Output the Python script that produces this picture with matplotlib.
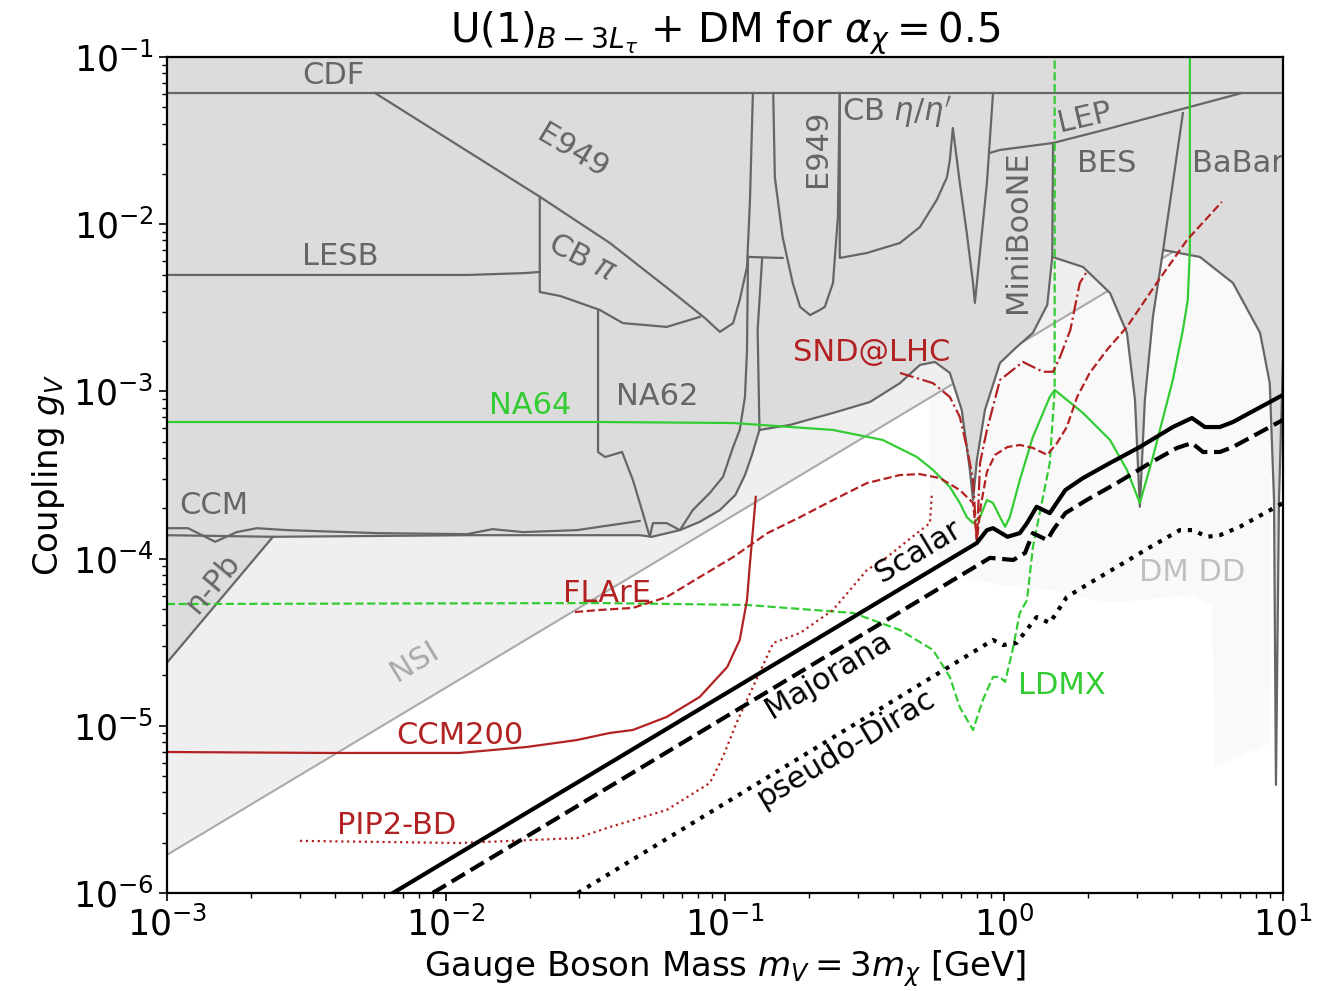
import matplotlib.pyplot as plt

GRAY = '#dcdcdc'
EDGE = '#666666'
GREEN = '#33cc33'
RED = '#b22222'

# lower envelope of the combined excluded region (mass GeV, coupling)
env_m = [1e-3, 2.40e-3, 1.22e-2, 4.95e-2, 5.47e-2, 6.90e-2, 8.13e-2, 9.59e-2, 0.109, 0.118,
         0.125, 0.133, 0.171, 0.244, 0.331, 0.424, 0.500, 0.566, 0.640, 0.706,
         0.755, 0.775, 0.800, 0.855, 0.968, 1.11, 1.27, 1.43, 1.49, 1.92,
         2.40, 2.76, 2.95, 3.07, 3.20, 3.42, 3.72, 5.04, 6.62, 8.28,
         8.97, 9.29, 9.44, 9.68, 10.0]
env_g = [2.38e-5, 1.35e-4, 1.38e-4, 1.38e-4, 1.35e-4, 1.48e-4, 1.66e-4, 1.95e-4, 2.40e-4, 3.16e-4,
         4.17e-4, 5.88e-4, 6.30e-4, 7.43e-4, 8.64e-4, 1.12e-3, 1.44e-3, 1.50e-3, 1.29e-3, 7.74e-4,
         3.39e-4, 2.24e-4, 3.89e-4, 7.74e-4, 1.48e-3, 1.84e-3, 2.24e-3, 3.29e-3, 6.37e-3, 5.55e-3,
         3.88e-3, 2.24e-3, 8.89e-4, 2.04e-4, 8.89e-4, 2.79e-3, 7.01e-3, 6.37e-3, 4.45e-3, 2.24e-3,
         1.12e-3, 2.24e-4, 4.43e-6, 2.24e-4, 1.54e-3]

# boundaries of the individual constraints
cdf_m = [1e-3, 10.0]
cdf_g = [6.09e-2, 6.09e-2]
e949_m = [5.57e-3, 2.17e-2, 3.87e-2, 6.35e-2, 8.47e-2, 9.59e-2, 0.107, 0.113, 0.120, 0.123, 0.126]
e949_g = [6.09e-2, 1.46e-2, 7.72e-3, 4.04e-3, 2.75e-3, 2.27e-3, 2.56e-3, 3.52e-3, 5.55e-3, 1.40e-2, 6.09e-2]
lesb_m = [1e-3, 1.2e-2, 1.92e-2, 2.17e-2]
lesb_g = [4.97e-3, 4.97e-3, 5.10e-3, 5.18e-3]
cbpi_m = [2.17e-2, 2.17e-2, 2.57e-2, 3.56e-2, 4.31e-2, 6.19e-2, 8.13e-2]
cbpi_g = [1.46e-2, 3.93e-3, 3.72e-3, 3.07e-3, 2.56e-3, 2.43e-3, 2.79e-3]
na62_m = [3.51e-2, 3.51e-2, 3.72e-2, 4.28e-2, 4.68e-2, 5.08e-2, 5.38e-2, 5.52e-2, 6.19e-2, 6.90e-2,
          7.67e-2, 8.83e-2, 9.84e-2, 0.107, 0.113, 0.118, 0.120, 0.121]
na62_g = [3.07e-3, 4.34e-4, 4.05e-4, 4.34e-4, 2.95e-4, 1.87e-4, 1.35e-4, 1.63e-4, 1.63e-4, 1.48e-4,
          1.95e-4, 2.47e-4, 3.08e-4, 4.65e-4, 5.88e-4, 9.26e-4, 1.77e-3, 6.37e-3]
strand_m = [0.133, 0.131, 0.136]
strand_g = [5.88e-4, 2.33e-3, 6.28e-3]
e949low_m = [0.121, 0.161]
e949low_g = [6.37e-3, 6.28e-3]
e949u_m = [0.149, 0.151, 0.161, 0.175, 0.186, 0.202, 0.219, 0.228, 0.244, 0.254, 0.258]
e949u_g = [6.09e-2, 1.91e-2, 8.38e-3, 4.45e-3, 3.20e-3, 2.86e-3, 3.07e-3, 3.20e-3, 4.45e-3, 1.10e-2, 6.09e-2]
cbeta_m = [0.258, 0.258, 0.323, 0.424, 0.500, 0.575, 0.625, 0.640, 0.656, 0.695,
           0.736, 0.775, 0.787, 0.800, 0.869, 0.914]
cbeta_g = [6.09e-2, 6.28e-3, 6.73e-3, 7.72e-3, 9.62e-3, 1.40e-2, 1.91e-2, 2.42e-2, 3.76e-2, 1.76e-2,
           8.86e-3, 4.45e-3, 3.38e-3, 4.45e-3, 1.76e-2, 6.09e-2]
lep_m = [0.891, 0.968, 1.50, 2.21, 3.84, 7.13]
lep_g = [2.67e-2, 2.78e-2, 3.06e-2, 3.61e-2, 4.62e-2, 6.09e-2]
mini_m = [1.50, 1.49]
mini_g = [3.06e-2, 6.37e-3]
bes_m = [3.72, 4.03, 4.38]
bes_g = [7.01e-3, 1.76e-2, 4.62e-2]
ccm_m = [1e-3, 1.19e-3, 1.49e-3, 1.78e-3, 2.10e-3, 2.69e-3, 5.66e-3, 1.19e-2, 1.47e-2, 1.89e-2, 2.95e-2, 4.95e-2]
ccm_g = [1.52e-4, 1.52e-4, 1.26e-4, 1.44e-4, 1.52e-4, 1.48e-4, 1.42e-4, 1.40e-4, 1.50e-4, 1.44e-4, 1.48e-4, 1.68e-4]
ccmflat_m = [1e-3, 2.40e-3]
ccmflat_g = [1.38e-4, 1.35e-4]

nsi_m = [1e-3, 10.0]
nsi_g = [1.69e-6, 1.69e-2]

dmdd_m = [0.543, 0.543, 0.560, 0.590, 0.724, 0.968, 1.46, 2.40, 4.64, 5.57, 5.70, 8.97, 9.2]
dmdd_g = [0.1, 1.48e-4, 1.15e-4, 9.81e-5, 7.66e-5, 6.95e-5, 6.49e-5, 5.42e-5, 6.06e-5, 5.28e-5,
          5.67e-6, 7.89e-6, 0.1]

# current / future sensitivities
na64_m = [1e-3, 3.56e-2, 0.107, 0.244, 0.368, 0.488, 0.557, 0.640, 0.695, 0.736,
          0.775, 0.821, 0.869, 0.914, 0.968, 1.01, 1.05, 1.14, 1.27, 1.46,
          1.52, 1.92, 2.40, 2.76, 3.07, 3.42, 4.03, 4.38, 4.56, 4.64, 4.64]
na64_g = [6.56e-4, 6.56e-4, 6.47e-4, 5.88e-4, 5.12e-4, 4.05e-4, 3.39e-4, 2.68e-4, 2.15e-4, 1.77e-4,
          1.63e-4, 1.77e-4, 2.24e-4, 2.15e-4, 1.77e-4, 1.55e-4, 1.77e-4, 2.95e-4, 5.34e-4, 9.26e-4,
          1.02e-3, 7.43e-4, 5.12e-4, 3.39e-4, 2.15e-4, 4.05e-4, 1.17e-3, 2.33e-3, 3.52e-3, 7.01e-3, 0.1]
ldmx_m = [1e-3, 3.56e-2, 0.120, 0.288, 0.424, 0.557, 0.640, 0.695, 0.775, 0.841,
          0.914, 0.968, 1.01, 1.08, 1.14, 1.21, 1.27, 1.46, 1.52, 1.52]
ldmx_g = [5.35e-5, 5.42e-5, 5.28e-5, 4.73e-5, 3.74e-5, 2.84e-5, 1.96e-5, 1.29e-5, 9.44e-6, 1.43e-5,
          1.96e-5, 1.96e-5, 1.83e-5, 2.96e-5, 4.73e-5, 5.65e-5, 1.17e-4, 3.73e-4, 1.02e-3, 0.1]
snd_m = [0.424, 0.557, 0.640, 0.695, 0.736, 0.775, 0.800, 0.821, 0.869, 0.968,
         1.17, 1.38, 1.50, 1.59, 1.73, 1.87, 2.00]
snd_g = [1.29e-3, 1.12e-3, 9.26e-4, 7.03e-4, 4.65e-4, 2.95e-4, 1.24e-4, 3.73e-4, 5.88e-4, 1.17e-3,
         1.50e-3, 1.31e-3, 1.31e-3, 1.61e-3, 2.33e-3, 4.45e-3, 5.32e-3]
flare_m = [2.90e-2, 3.56e-2, 4.68e-2, 6.19e-2, 8.13e-2, 0.107, 0.142, 0.186, 0.244, 0.323,
           0.424, 0.500, 0.590, 0.695, 0.775, 0.794, 0.800, 0.827, 0.869, 0.929,
           1.03, 1.14, 1.27, 1.43, 1.55, 1.68, 1.83, 2.03, 2.34, 2.76,
           3.53, 4.53, 6.04]
flare_g = [4.79e-5, 4.93e-5, 5.07e-5, 5.89e-5, 7.76e-5, 1.02e-4, 1.42e-4, 1.77e-4, 2.24e-4, 2.83e-4,
           3.16e-4, 3.20e-4, 3.03e-4, 2.57e-4, 2.15e-4, 1.48e-4, 1.29e-4, 2.09e-4, 3.30e-4, 4.17e-4,
           4.65e-4, 4.78e-4, 4.59e-4, 4.17e-4, 4.91e-4, 6.12e-4, 9.26e-4, 1.29e-3, 1.77e-3, 2.43e-3,
           4.45e-3, 8.04e-3, 1.36e-2]
ccm200_m = [1e-3, 3.75e-3, 1.12e-2, 1.95e-2, 2.95e-2, 3.87e-2, 4.68e-2, 6.19e-2, 8.13e-2, 0.102,
            0.113, 0.120, 0.123, 0.126, 0.129]
ccm200_g = [6.97e-6, 6.88e-6, 6.88e-6, 7.47e-6, 8.22e-6, 9.06e-6, 9.44e-6, 1.13e-5, 1.49e-5, 2.25e-5,
            3.26e-5, 5.65e-5, 9.41e-5, 1.48e-4, 2.34e-4]
pip2_m = [3.00e-3, 1.12e-2, 2.95e-2, 3.87e-2, 6.19e-2, 8.83e-2, 9.84e-2, 0.110, 0.120, 0.133,
          0.149, 0.186, 0.244, 0.323, 0.381, 0.488, 0.543, 0.552]
pip2_g = [2.05e-6, 1.99e-6, 2.13e-6, 2.48e-6, 3.14e-6, 4.55e-6, 6.51e-6, 1.04e-5, 1.43e-5, 2.07e-5,
          3.13e-5, 3.59e-5, 4.93e-5, 8.55e-5, 1.02e-4, 1.42e-4, 1.63e-4, 2.47e-4]

# thermal relic targets
scalar_m = [6.46e-3, 0.800, 0.869, 0.914, 1.03, 1.14, 1.21, 1.31, 1.46, 1.66,
            1.92, 2.40, 3.07, 4.03, 4.72, 5.25, 5.94, 6.62, 10.0]
scalar_g = [1e-6, 1.24e-4, 1.48e-4, 1.52e-4, 1.35e-4, 1.42e-4, 1.63e-4, 2.04e-4, 1.87e-4, 2.57e-4,
            3.03e-4, 3.73e-4, 4.65e-4, 6.12e-4, 6.93e-4, 6.12e-4, 6.12e-4, 6.56e-4, 9.52e-4]
major_m = [8.97e-3, 0.891, 1.08, 1.19, 1.27, 1.43, 1.50, 1.66, 1.98, 2.54,
           3.34, 4.17, 4.72, 5.17, 5.94, 6.62, 10.0]
major_g = [1e-6, 1.01e-4, 9.81e-5, 1.08e-4, 1.42e-4, 1.29e-4, 1.48e-4, 1.87e-4, 2.24e-4, 2.83e-4,
           3.73e-4, 4.59e-4, 4.91e-4, 4.34e-4, 4.34e-4, 4.65e-4, 6.75e-4]
pdirac_m = [2.97e-2, 0.914, 0.992, 1.11, 1.31, 1.46, 1.68, 2.03, 2.54, 3.34,
            4.27, 4.76, 5.34, 5.94, 7.01, 10.0]
pdirac_g = [1e-6, 3.26e-5, 3.04e-5, 3.13e-5, 4.47e-5, 4.12e-5, 5.89e-5, 7.14e-5, 8.91e-5, 1.17e-4,
            1.48e-4, 1.48e-4, 1.35e-4, 1.38e-4, 1.55e-4, 2.15e-4]

fig = plt.figure(figsize=(13.35, 9.91), dpi=100)
ax = fig.add_axes([0.125, 0.0989, 0.836, 0.8436])
ax.set_xscale('log')
ax.set_yscale('log')
ax.set_xlim(1e-3, 10)
ax.set_ylim(1e-6, 1e-1)

# background regions
ax.fill(dmdd_m, dmdd_g, color='#f9f9f9', lw=0, zorder=1)
ax.fill_between(nsi_m, nsi_g, [1.0, 1.0], color='#efefef', lw=0, zorder=1.2)
ax.plot(nsi_m, nsi_g, color='#aaaaaa', lw=1.5, zorder=1.3)
ax.fill(env_m + [10.0, 1e-3], env_g + [1.0, 1.0], color=GRAY, lw=0, zorder=2)

edge_kw = dict(color=EDGE, lw=1.6, zorder=2.5)
ax.plot(env_m, env_g, **edge_kw)
for xs, ys in [(cdf_m, cdf_g), (e949_m, e949_g), (lesb_m, lesb_g), (cbpi_m, cbpi_g),
               (na62_m, na62_g), (strand_m, strand_g), (e949low_m, e949low_g),
               (e949u_m, e949u_g), (cbeta_m, cbeta_g), (lep_m, lep_g), (mini_m, mini_g),
               (bes_m, bes_g), (ccm_m, ccm_g), (ccmflat_m, ccmflat_g)]:
    ax.plot(xs, ys, **edge_kw)

# sensitivity curves
ax.plot(na64_m, na64_g, color=GREEN, lw=1.6, zorder=4)
ax.plot(ldmx_m, ldmx_g, color=GREEN, lw=1.6, ls='--', zorder=4)
ax.plot(snd_m, snd_g, color=RED, lw=1.6, ls='-.', zorder=4)
ax.plot(flare_m, flare_g, color=RED, lw=1.6, ls='--', zorder=4)
ax.plot(ccm200_m, ccm200_g, color=RED, lw=1.6, zorder=4)
ax.plot(pip2_m, pip2_g, color=RED, lw=1.6, ls=':', zorder=4)

ax.plot(scalar_m, scalar_g, color='k', lw=3, zorder=5)
ax.plot(major_m, major_g, color='k', lw=3, ls='--', zorder=5)
ax.plot(pdirac_m, pdirac_g, color='k', lw=3, ls=':', zorder=5)

# labels
def lab(x, y, s, c=EDGE, rot=0, size=22):
    ax.text(x, y, s, color=c, rotation=rot, fontsize=size, ha='center', va='center',
            rotation_mode='anchor', zorder=6, clip_on=True)

lab(3.94e-3, 7.8e-2, 'CDF')
lab(2.85e-2, 2.7e-2, 'E949', rot=-31)
lab(4.17e-3, 6.37e-3, 'LESB')
lab(3.08e-2, 6.28e-3, r'CB $\pi$', rot=-27)
lab(0.214, 2.86e-2, 'E949', rot=90)
lab(0.413, 4.69e-2, r"CB $\eta/\eta'$")
lab(1.12, 8.99e-3, 'MiniBooNE', rot=90)
lab(1.95, 4.32e-2, 'LEP', rot=13)
lab(2.34, 2.32e-2, 'BES')
lab(6.9, 2.32e-2, 'BaBar')
lab(5.71e-2, 9.26e-4, 'NA62')
lab(2.0e-2, 8.29e-4, 'NA64', c=GREEN)
lab(0.336, 1.70e-3, 'SND@LHC', c=RED)
lab(1.47e-3, 2.09e-4, 'CCM')
lab(1.46e-3, 7.14e-5, 'n-Pb', rot=50)
lab(3.78e-2, 6.22e-5, 'FLArE', c=RED)
lab(7.74e-3, 2.41e-5, 'NSI', c='#aaaaaa', rot=31)
lab(1.12e-2, 8.69e-6, 'CCM200', c=RED)
lab(6.67e-3, 2.52e-6, 'PIP2-BD', c=RED)
lab(0.492, 1.10e-4, 'Scalar', c='k', rot=31)
lab(0.234, 2.01e-5, 'Majorana', c='k', rot=31)
lab(0.272, 7.36e-6, 'pseudo-Dirac', c='k', rot=31)
lab(1.61, 1.73e-5, 'LDMX', c=GREEN)
lab(4.72, 8.2e-5, 'DM DD', c='#c0c0c0')

ax.set_xlabel(r'Gauge Boson Mass $m_V = 3m_\chi$ [GeV]', fontsize=24.5)
ax.set_ylabel(r'Coupling $g_V$', fontsize=24.5)
ax.set_title(r'U(1)$_{B-3L_\tau}$ + DM for $\alpha_\chi = 0.5$', fontsize=29)
ax.tick_params(which='major', labelsize=25, length=6, width=1.2)
ax.tick_params(which='minor', length=3.5, width=1)
for sp in ax.spines.values():
    sp.set_linewidth(1.6)
    sp.set_zorder(7)

fig.savefig('out.png', dpi=100)
